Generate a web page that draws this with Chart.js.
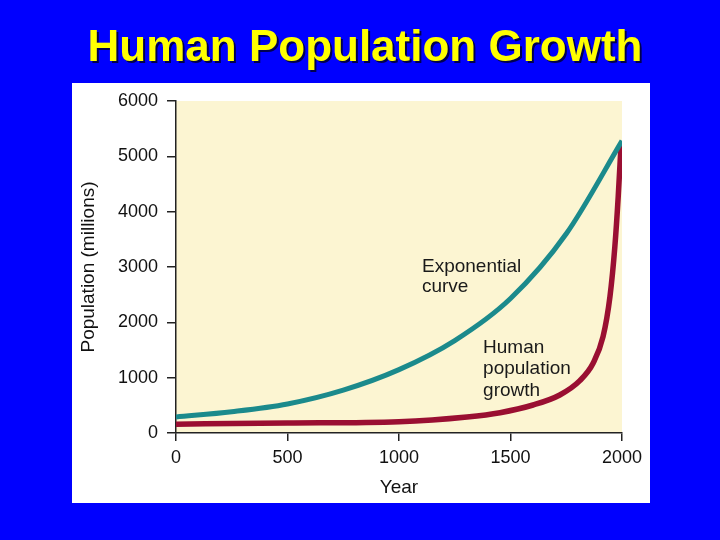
<!DOCTYPE html>
<html>
<head>
<meta charset="utf-8">
<title>Human Population Growth</title>
<script src="https://cdn.jsdelivr.net/npm/chart.js@4/dist/chart.umd.min.js"></script>
<style>
  html, body { margin: 0; padding: 0; background: #0000ff; }
  #caja { position: relative; width: 720px; height: 540px; }
</style>
</head>
<body>
<div id="caja"><canvas id="grafico" width="720" height="540"></canvas></div>
<script>
/** Datos */
let anosExpo = [0, 250, 500, 750, 1000, 1250, 1500, 1750, 2000];
let poblacionExpo = [290, 385, 525, 775, 1145, 1670, 2430, 3600, 5280];

let anosHumano = [0, 500, 1000, 1305, 1453, 1601, 1721, 1811, 1871, 1915, 1946, 1968, 1983, 1996];
let poblacionHumano = [160, 180, 205, 290, 367, 506, 687, 946, 1265, 1740, 2465, 3370, 4270, 5230];

let ticksX = [0, 500, 1000, 1500, 2000];
let ticksY = [0, 1000, 2000, 3000, 4000, 5000, 6000];

let titulo = "Human Population Growth";
let notaExpo = ["Exponential", "curve"];
let notaHumano = ["Human", "population", "growth"];

function puntos(xs, ys) {
    var lista = [];
    for (var i = 0; i < xs.length; i++) {
        lista.push({ x: xs[i], y: ys[i] });
    }
    return lista;
}

/** Fondo azul, titulo, panel blanco y area crema */
let fondo = {
    id: 'fondo',
    beforeDraw(chart) {
        const ctx = chart.ctx;
        const a = chart.chartArea;
        ctx.save();
        ctx.fillStyle = '#0000ff';
        ctx.fillRect(0, 0, chart.width, chart.height);

        ctx.font = 'bold 44px "Liberation Sans", Arial, sans-serif';
        ctx.textAlign = 'center';
        ctx.textBaseline = 'alphabetic';
        ctx.shadowColor = 'rgba(0,0,60,0.9)';
        ctx.shadowOffsetX = 2;
        ctx.shadowOffsetY = 2;
        ctx.fillStyle = '#ffff00';
        ctx.fillText(titulo, 365, 61);
        ctx.shadowColor = 'transparent';

        ctx.fillStyle = '#ffffff';
        ctx.fillRect(72, 83, 578, 420);
        ctx.fillStyle = '#fcf5d2';
        ctx.fillRect(a.left, a.top, a.right - a.left, a.bottom - a.top);
        ctx.restore();
    }
};

/** Textos dentro del grafico */
let notas = {
    id: 'notas',
    afterDatasetsDraw(chart) {
        const ctx = chart.ctx;
        const sx = chart.scales.x;
        const sy = chart.scales.y;
        ctx.save();
        ctx.fillStyle = '#1a1a1a';
        ctx.font = '19px "Liberation Sans", Arial, sans-serif';
        ctx.textBaseline = 'alphabetic';
        var x1 = sx.getPixelForValue(1103);
        var y1 = sy.getPixelForValue(2910);
        notaExpo.forEach((t, i) => ctx.fillText(t, x1, y1 + i * 20.5));
        var x2 = sx.getPixelForValue(1377);
        var y2 = sy.getPixelForValue(1451);
        notaHumano.forEach((t, i) => ctx.fillText(t, x2, y2 + i * 21.5));
        ctx.restore();
    }
};

const ctx = document.getElementById('grafico');
const fuente = '"Liberation Sans", Arial, sans-serif';

new Chart(ctx, {
    type: 'line',
    data: {
        datasets: [{
            label: 'Exponential curve',
            data: puntos(anosExpo, poblacionExpo),
            borderColor: '#1b8a8c',
            borderWidth: 5,
            pointRadius: 0,
            cubicInterpolationMode: 'monotone'
        }, {
            label: 'Human population growth',
            data: puntos(anosHumano, poblacionHumano),
            borderColor: '#9a0f32',
            borderWidth: 5.5,
            pointRadius: 0,
            cubicInterpolationMode: 'monotone'
        }]
    },
    options: {
        responsive: false,
        animation: false,
        layout: {
            padding: { left: 72, right: 98, top: 101, bottom: 37 }
        },
        plugins: {
            legend: { display: false },
            tooltip: { enabled: false },
            title: { display: false }
        },
        scales: {
            x: {
                type: 'linear',
                min: 0,
                max: 2000,
                afterBuildTicks: (s) => { s.ticks = ticksX.map(v => ({ value: v })); },
                afterFit: (s) => { s.height = 70; },
                grid: { drawOnChartArea: false, tickLength: 8, color: '#222', lineWidth: 1.5 },
                border: { color: '#222', width: 1.5 },
                ticks: {
                    color: '#111',
                    padding: 6,
                    maxRotation: 0,
                    callback: (v) => String(v),
                    font: { family: fuente, size: 18 }
                },
                title: {
                    display: true,
                    text: 'Year',
                    color: '#111',
                    padding: { top: 0, bottom: 4 },
                    font: { family: fuente, size: 19 }
                }
            },
            y: {
                type: 'linear',
                min: 0,
                max: 6000,
                afterBuildTicks: (s) => { s.ticks = ticksY.map(v => ({ value: v })); },
                afterFit: (s) => { s.width = 104; },
                grid: { drawOnChartArea: false, tickLength: 9, color: '#222', lineWidth: 1.5 },
                border: { color: '#222', width: 1.5 },
                ticks: {
                    color: '#111',
                    padding: 9,
                    callback: (v) => String(v),
                    font: { family: fuente, size: 18 }
                },
                title: {
                    display: true,
                    text: 'Population (millions)',
                    color: '#111',
                    padding: { top: 5, bottom: 0 },
                    font: { family: fuente, size: 19 }
                }
            }
        }
    },
    plugins: [fondo, notas]
});
</script>
</body>
</html>
